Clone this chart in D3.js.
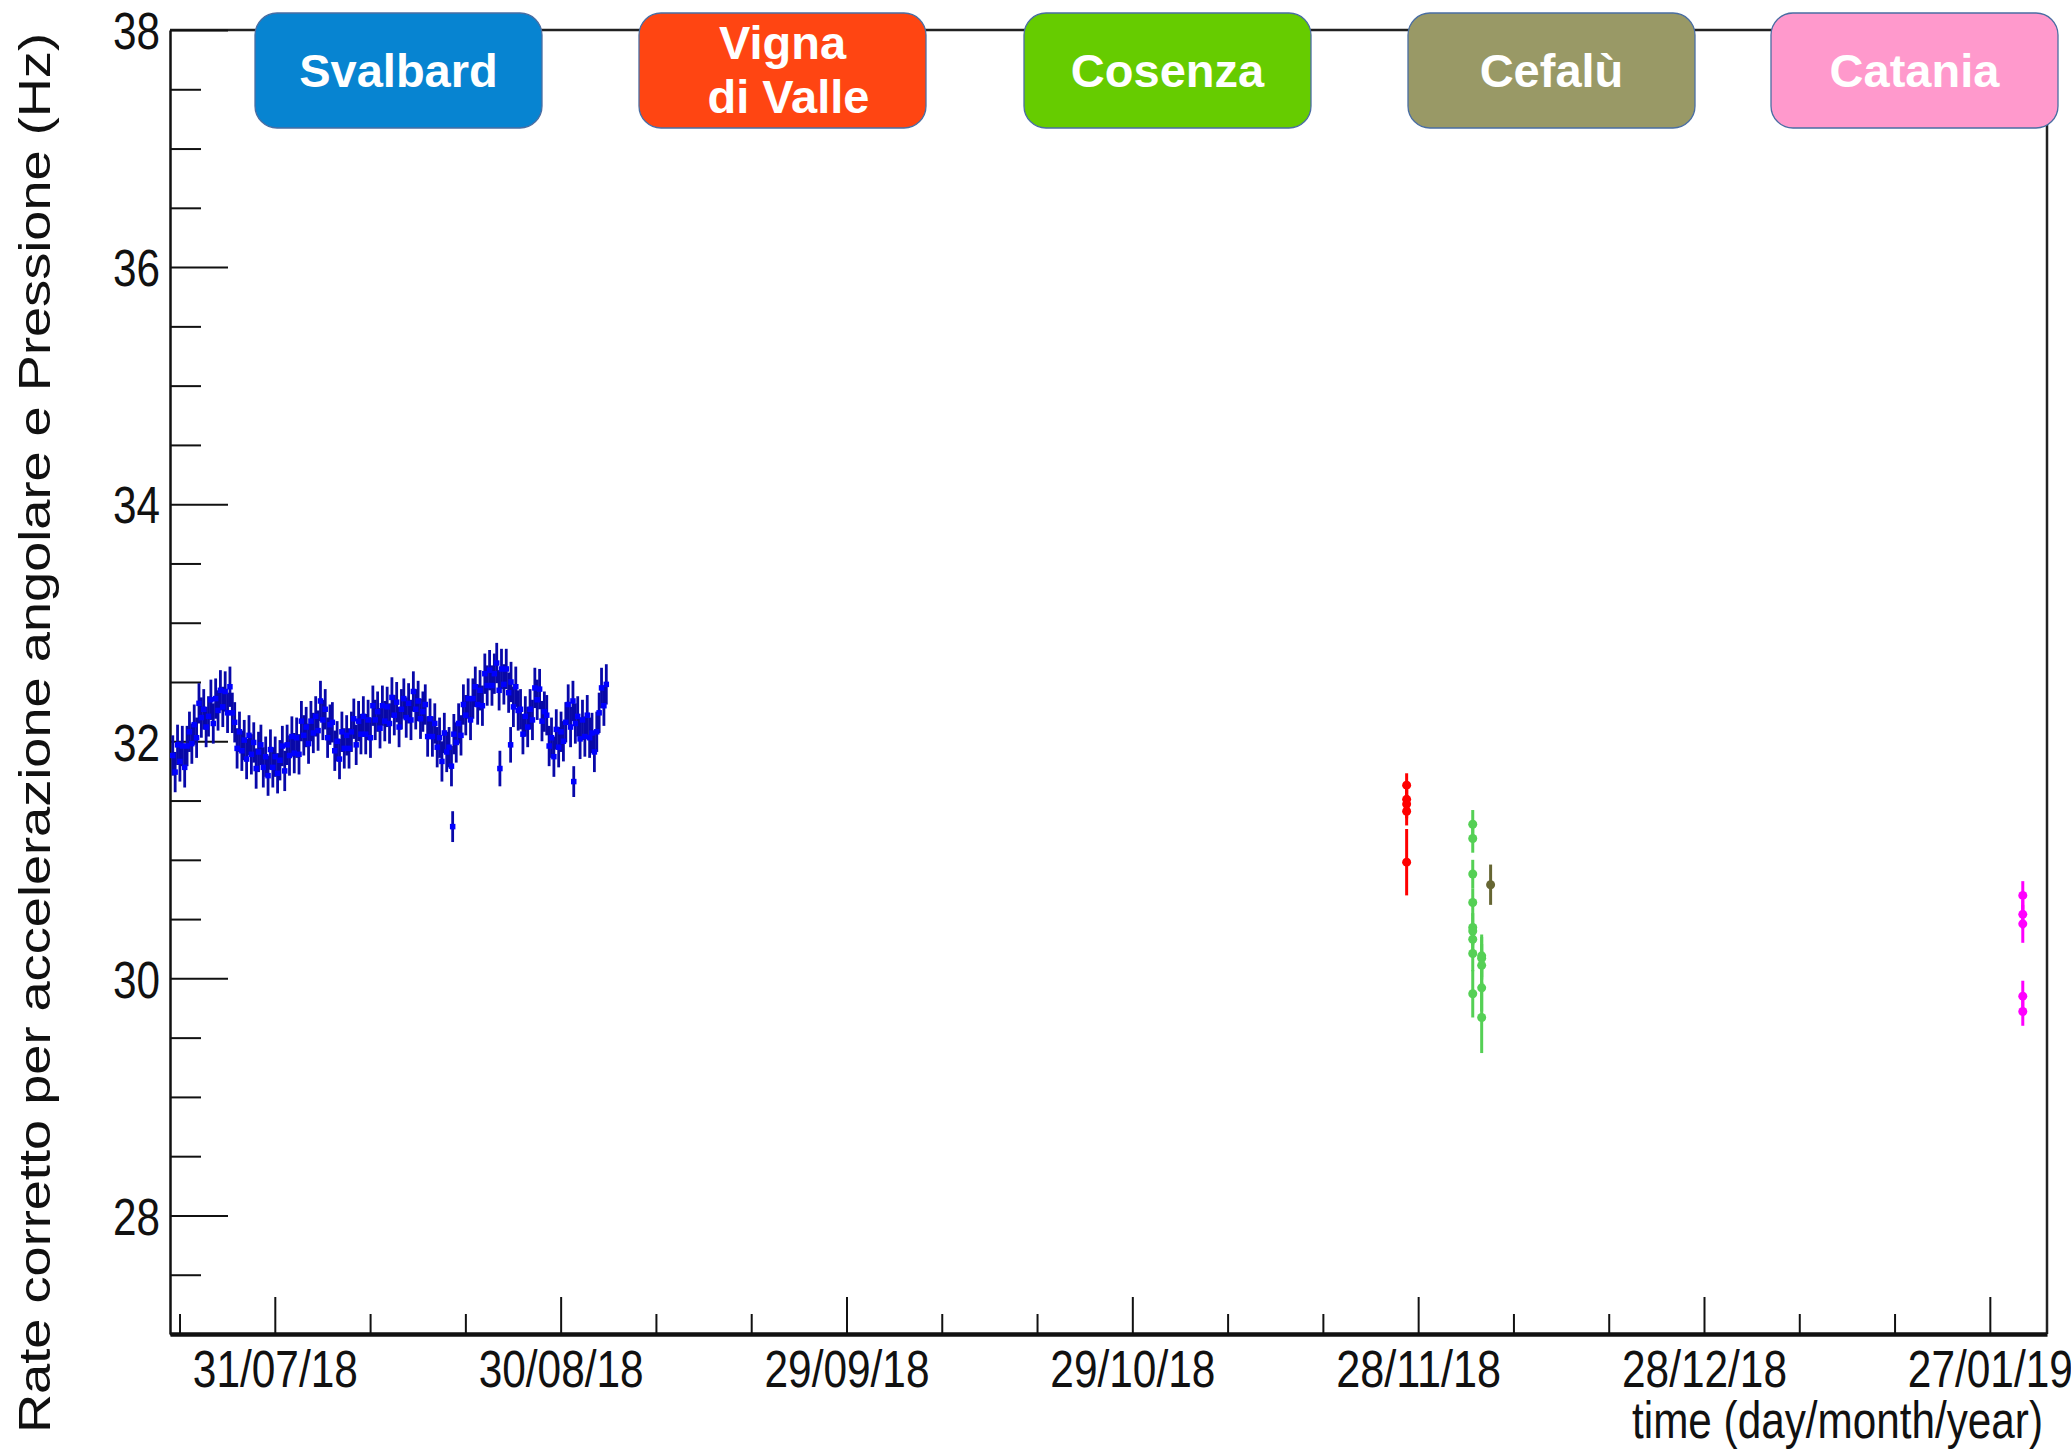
<!DOCTYPE html>
<html>
<head>
<meta charset="utf-8">
<script src="https://cdn.jsdelivr.net/npm/d3@7"></script>
<style>
  body { margin: 0; background: #fff; }
  svg { display: block; }
  text { font-family: "Liberation Sans", Arial, Helvetica, sans-serif; }
</style>
</head>
<body>
<svg id="chart" width="2071" height="1453"></svg>
<script>
// ---------- data ----------
// time axis: labelled ticks every 30 days, small ticks every 10 days
const majorTickDates = ["2018-07-31", "2018-08-30", "2018-09-29", "2018-10-29", "2018-11-28", "2018-12-28", "2019-01-27"];
const minorTickStart = "2018-07-21";
const minorTickStepDays = 10;
const yMajorTicks = [28, 30, 32, 34, 36, 38];

// Svalbard: corrected rate sampled every 6 hours
const svalbardStart = "2018-07-20T07:00:00Z";
const svalbardStepHours = 6;
const svalbardRate = [
  31.88, 31.74, 31.97, 31.83, 31.96, 31.78, 31.96, 32.08, 31.98, 32.14,
  32.03, 32.32, 32.20, 32.27, 32.12, 32.21, 32.35, 32.15, 32.36, 32.26,
  32.43, 32.29, 32.42, 32.24, 32.46, 32.24, 32.16, 31.94, 32.08, 31.92,
  32.01, 31.85, 32.05, 31.89, 31.99, 31.77, 31.91, 31.97, 31.78, 31.87,
  31.71, 31.93, 31.78, 31.87, 31.73, 31.84, 31.96, 31.75, 31.97, 31.88,
  32.04, 31.90, 32.03, 31.89, 32.17, 32.05, 32.12, 31.98, 32.17, 32.07,
  32.21, 32.09, 32.34, 32.18, 32.27, 32.03, 32.14, 32.16, 31.92, 32.00,
  31.85, 32.08, 31.94, 32.05, 31.94, 32.08, 32.19, 31.97, 32.17, 32.06,
  32.21, 32.06, 32.18, 32.03, 32.30, 32.18, 32.25, 32.11, 32.30, 32.17,
  32.29, 32.15, 32.37, 32.22, 32.33, 32.12, 32.27, 32.36, 32.20, 32.32,
  32.18, 32.42, 32.27, 32.34, 32.19, 32.25, 32.31, 32.04, 32.19, 32.04,
  32.15, 31.95, 32.03, 31.83, 32.07, 31.91, 31.95, 31.79, 32.06, 31.99,
  32.15, 32.05, 32.31, 32.22, 32.36, 32.18, 32.36, 32.46, 32.31, 32.43,
  32.30, 32.57, 32.47, 32.60, 32.47, 32.57, 32.66, 32.43, 32.61, 32.48,
  32.61, 32.41, 32.50, 32.29, 32.46, 32.26, 32.27, 32.06, 32.21, 32.12,
  32.27, 32.18, 32.45, 32.35, 32.44, 32.17, 32.25, 32.22, 31.96, 32.03,
  31.87, 32.10, 31.95, 32.08, 32.00, 32.16, 32.31, 32.12, 32.34, 32.15,
  32.21, 32.02, 32.18, 32.04, 32.22, 32.03, 32.07, 31.91, 32.08, 32.24,
  32.45, 32.30, 32.48
];
const svalbardErr = 0.17;
// isolated Svalbard samples off the main band: [time, rate, error]
const svalbardExtra = [
  ["2018-08-18T16:00:00Z", 31.28, 0.13],
  ["2018-08-23T15:00:00Z", 31.77, 0.15],
  ["2018-08-24T18:00:00Z", 31.97, 0.15],
  ["2018-08-31T09:00:00Z", 31.66, 0.13]
];

// other sites: [time, rate, error]
const vignaPoints = [
  ["2018-11-26T19:00:00Z", 31.63, 0.10],
  ["2018-11-26T19:00:00Z", 31.51, 0.12],
  ["2018-11-26T19:00:00Z", 31.47, 0.12],
  ["2018-11-26T19:00:00Z", 31.41, 0.12],
  ["2018-11-26T19:00:00Z", 30.98, 0.28]
];
const cosenzaPoints = [
  ["2018-12-03T17:30:00Z", 31.30, 0.12],
  ["2018-12-03T17:30:00Z", 31.18, 0.12],
  ["2018-12-03T17:30:00Z", 30.88, 0.12],
  ["2018-12-03T17:30:00Z", 30.64, 0.12],
  ["2018-12-03T17:30:00Z", 30.43, 0.12],
  ["2018-12-03T17:30:00Z", 30.40, 0.12],
  ["2018-12-03T17:30:00Z", 30.33, 0.12],
  ["2018-12-03T17:30:00Z", 30.21, 0.15],
  ["2018-12-03T17:30:00Z", 29.87, 0.20],
  ["2018-12-04T16:00:00Z", 30.19, 0.18],
  ["2018-12-04T16:00:00Z", 30.17, 0.18],
  ["2018-12-04T16:00:00Z", 30.11, 0.18],
  ["2018-12-04T16:00:00Z", 29.92, 0.20],
  ["2018-12-04T16:00:00Z", 29.67, 0.30]
];
const cefaluPoints = [
  ["2018-12-05T14:30:00Z", 30.79, 0.17]
];
const cataniaPoints = [
  ["2019-01-30T11:00:00Z", 30.70, 0.12],
  ["2019-01-30T11:00:00Z", 30.54, 0.12],
  ["2019-01-30T11:00:00Z", 30.46, 0.16],
  ["2019-01-30T11:00:00Z", 29.85, 0.13],
  ["2019-01-30T11:00:00Z", 29.72, 0.12]
];

// site labels shown along the top
const siteNames = [["Svalbard"], ["Vigna", "di Valle"], ["Cosenza"], ["Cefalù"], ["Catania"]];
const siteColors = ["#0784d1", "#ff4512", "#66cc00", "#999966", "#ff99cc"];

// ---------- layout ----------
const W = 2071, H = 1453;
const plot = { left: 170, right: 2047, top: 30, bottom: 1334 };
const labelBoxX = [255, 639, 1024, 1408, 1771];
const labelBox = { y: 13, w: 287, h: 115, r: 22 };

const svg = d3.select("#chart");
svg.append("rect").attr("width", W).attr("height", H).attr("fill", "#fff");

const x = d3.scaleUtc()
  .domain([new Date("2018-07-20T00:00:00Z"), new Date("2019-02-02T00:00:00Z")])
  .range([plot.left, plot.right]);
const y = d3.scaleLinear().domain([27, 38]).range([plot.bottom, plot.top]);

const fmt = d3.utcFormat("%d/%m/%y");
const majorDates = majorTickDates.map(s => new Date(s + "T00:00:00Z"));
const minorDates = [];
for (let t = new Date(minorTickStart + "T00:00:00Z"); t <= x.domain()[1]; t = d3.utcDay.offset(t, minorTickStepDays)) {
  if (!majorDates.some(m => +m === +t)) minorDates.push(t);
}
const yMinor = d3.range(27, 38.01, 0.5).filter(v => !yMajorTicks.includes(v));

// ---------- frame ----------
svg.append("path")
  .attr("d", `M${plot.left},${plot.top}H${plot.right}V${plot.bottom}`)
  .attr("fill", "none").attr("stroke", "#222").attr("stroke-width", 2.5);

// ---------- x axis ----------
const gxMinor = svg.append("g").attr("transform", `translate(0,${plot.bottom})`)
  .call(d3.axisBottom(x).tickValues(minorDates).tickSizeInner(-20).tickSizeOuter(0).tickFormat(""));
gxMinor.select(".domain").remove();
gxMinor.selectAll(".tick line").attr("stroke", "#111").attr("stroke-width", 2);

const gx = svg.append("g").attr("transform", `translate(0,${plot.bottom})`)
  .call(d3.axisBottom(x).tickValues(majorDates).tickSizeInner(-37).tickSizeOuter(0).tickFormat(fmt));
gx.select(".domain").attr("stroke", "#111").attr("stroke-width", 4.5);
gx.selectAll(".tick line").attr("stroke", "#111").attr("stroke-width", 2);
gx.selectAll(".tick text")
  .attr("y", 53).attr("dy", null)
  .attr("font-size", 52).attr("fill", "#111")
  .attr("textLength", 165).attr("lengthAdjust", "spacingAndGlyphs");

// ---------- y axis ----------
const gyMinor = svg.append("g").attr("transform", `translate(${plot.left},0)`)
  .call(d3.axisLeft(y).tickValues(yMinor).tickSizeInner(-31).tickSizeOuter(0).tickFormat(""));
gyMinor.select(".domain").remove();
gyMinor.selectAll(".tick line").attr("stroke", "#111").attr("stroke-width", 2);

const gy = svg.append("g").attr("transform", `translate(${plot.left},0)`)
  .call(d3.axisLeft(y).tickValues(yMajorTicks).tickSizeInner(-58).tickSizeOuter(0).tickPadding(10).tickFormat(d3.format("d")));
gy.select(".domain").attr("stroke", "#111").attr("stroke-width", 2.5);
gy.selectAll(".tick line").attr("stroke", "#111").attr("stroke-width", 2);
gy.selectAll(".tick text")
  .attr("font-size", 52).attr("fill", "#111").attr("dy", "0.36em")
  .attr("textLength", 47).attr("lengthAdjust", "spacingAndGlyphs");

// ---------- axis titles ----------
svg.append("text")
  .attr("transform", `translate(50,${(33 + 1433) / 2}) rotate(-90)`)
  .attr("text-anchor", "middle")
  .attr("font-size", 45).attr("fill", "#111")
  .attr("textLength", 1400).attr("lengthAdjust", "spacingAndGlyphs")
  .text("Rate corretto per accelerazione angolare e Pressione (Hz)");

svg.append("text")
  .attr("x", 2043).attr("y", 1438)
  .attr("text-anchor", "end")
  .attr("font-size", 52).attr("fill", "#111")
  .attr("textLength", 411).attr("lengthAdjust", "spacingAndGlyphs")
  .text("time (day/month/year)");

// ---------- data points with error bars ----------
const svalStart = new Date(svalbardStart);
const svalbard = svalbardRate.map((v, i) => [d3.utcHour.offset(svalStart, i * svalbardStepHours), v, svalbardErr])
  .concat(svalbardExtra.map(d => [new Date(d[0]), d[1], d[2]]));

function drawSeries(points, barColor, markColor, barWidth, marker, size) {
  const g = svg.append("g");
  g.selectAll("line").data(points).join("line")
    .attr("x1", d => x(d[0])).attr("x2", d => x(d[0]))
    .attr("y1", d => y(d[1] + d[2])).attr("y2", d => y(d[1] - d[2]))
    .attr("stroke", barColor).attr("stroke-width", barWidth);
  if (marker === "square") {
    g.selectAll("rect").data(points).join("rect")
      .attr("x", d => x(d[0]) - size / 2).attr("y", d => y(d[1]) - size / 2)
      .attr("width", size).attr("height", size)
      .attr("fill", markColor);
  } else {
    g.selectAll("circle").data(points).join("circle")
      .attr("cx", d => x(d[0])).attr("cy", d => y(d[1]))
      .attr("r", size).attr("fill", markColor);
  }
}

const parsePts = arr => arr.map(d => [new Date(d[0]), d[1], d[2]]);
drawSeries(svalbard, "#0808a8", "#0000ff", 2.8, "square", 5.5);
drawSeries(parsePts(vignaPoints), "#ff0000", "#ff0000", 3, "circle", 4.5);
drawSeries(parsePts(cosenzaPoints), "#55d055", "#55d055", 3, "circle", 4.5);
drawSeries(parsePts(cefaluPoints), "#666633", "#666633", 3, "circle", 4.5);
drawSeries(parsePts(cataniaPoints), "#ff00ff", "#ff00ff", 3, "circle", 4.5);

// ---------- site label boxes ----------
const boxes = svg.append("g");
siteNames.forEach((lines, i) => {
  const bx = labelBoxX[i];
  boxes.append("rect")
    .attr("x", bx).attr("y", labelBox.y)
    .attr("width", labelBox.w).attr("height", labelBox.h)
    .attr("rx", labelBox.r).attr("ry", labelBox.r)
    .attr("fill", siteColors[i])
    .attr("stroke", "#4a6ea3").attr("stroke-width", 1.3);
  const cx = bx + labelBox.w / 2;
  const baselines = lines.length === 1 ? [87] : [59, 113];
  lines.forEach((t, j) => {
    boxes.append("text")
      .attr("x", cx + (lines.length > 1 && j === 1 ? 6 : 0)).attr("y", baselines[j])
      .attr("text-anchor", "middle")
      .attr("font-size", 47).attr("font-weight", "bold")
      .attr("fill", "#fff")
      .text(t);
  });
});
</script>
</body>
</html>
